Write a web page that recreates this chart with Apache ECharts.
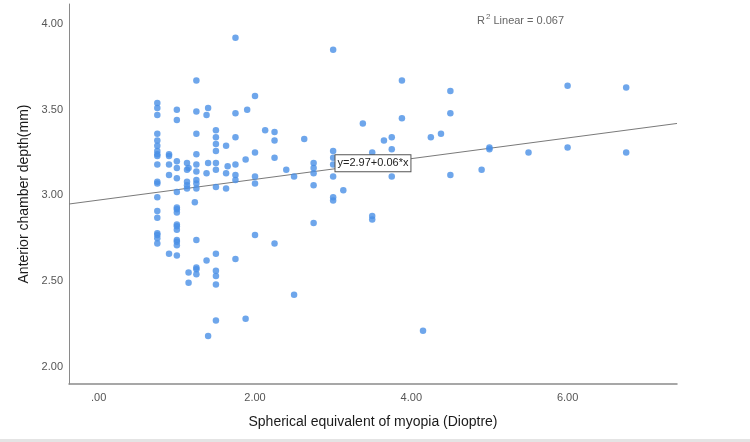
<!DOCTYPE html>
<html>
<head>
<meta charset="utf-8">
<script src="https://cdn.jsdelivr.net/npm/echarts@6/dist/echarts.min.js"></script>
<style>
  html, body { margin: 0; padding: 0; background: #fff; }
  #chart { width: 750px; height: 442px; }
</style>
</head>
<body>
<div id="chart"></div>
<script>
// spherical equivalent columns (dioptre) and the depths read at each one
const seColumns = [0.75, 0.90, 1.00, 1.13, 1.15, 1.23, 1.25, 1.38, 1.40, 1.50, 1.63, 1.65, 1.75, 1.88, 1.90,
  2.00, 2.13, 2.25, 2.40, 2.50, 2.63, 2.75, 3.00, 3.13, 3.38, 3.50, 3.65, 3.75, 3.88, 4.15, 4.25, 4.38,
  4.50, 4.90, 5.00, 5.50, 6.00, 6.75];
const acdByColumn = [
  [3.54, 3.51, 3.47, 3.36, 3.32, 3.29, 3.26, 3.24, 3.23, 3.18, 3.08, 3.07, 2.99, 2.91, 2.87, 2.78, 2.77, 2.75, 2.72],
  [3.24, 3.23, 3.18, 3.12, 2.66],
  [3.50, 3.44, 3.20, 3.16, 3.10, 3.02, 2.93, 2.92, 2.90, 2.83, 2.82, 2.80, 2.74, 2.73, 2.71, 2.65],
  [3.19, 3.15, 3.08, 3.06, 3.04],
  [3.16, 2.55, 2.49],
  [2.96],
  [3.67, 3.49, 3.36, 3.24, 3.18, 3.14, 3.09, 3.07, 3.04, 2.74, 2.58, 2.57, 2.54],
  [3.47, 3.13, 2.62],
  [3.51, 3.19, 2.18],
  [3.38, 3.34, 3.30, 3.26, 3.19, 3.15, 3.05, 2.66, 2.56, 2.53, 2.48, 2.27],
  [3.29, 3.13, 3.04],
  [3.17],
  [3.92, 3.48, 3.34, 3.18, 3.12, 3.09, 2.63],
  [3.21, 2.28],
  [3.50],
  [3.58, 3.25, 3.11, 3.07, 2.77],
  [3.38],
  [3.37, 3.32, 3.22, 2.72],
  [3.15],
  [3.11, 2.42],
  [3.33],
  [3.19, 3.16, 3.13, 3.06, 2.84],
  [3.85, 3.26, 3.22, 3.18, 3.11, 2.99, 2.97],
  [3.03],
  [3.42],
  [3.25, 2.88, 2.86],
  [3.32],
  [3.34, 3.27, 3.11],
  [3.67, 3.45],
  [2.21],
  [3.34],
  [3.36],
  [3.61, 3.48, 3.12],
  [3.15],
  [3.28, 3.27],
  [3.25],
  [3.64, 3.28],
  [3.63, 3.25]
];

// fit line end points and the label anchor
const fitX = [-0.38, 7.40];
const fitY = [2.95, 3.42];
const fitLabelAt = [3.03, 3.165];
const fitText = 'y=2.97+0.06*x';
const r2Text = '0.067';

const points = [];
seColumns.forEach((x, i) => acdByColumn[i].forEach(y => points.push([x, y])));

const font = "'Liberation Sans', Arial, sans-serif";
const chart = echarts.init(document.getElementById('chart'));

chart.setOption({
  backgroundColor: '#fff',
  animation: false,
  title: {
    text: '{t|R}{s|2}{t| Linear = ' + r2Text + '}',
    left: 472,
    top: 8,
    textStyle: {
      fontWeight: 'normal',
      rich: {
        t: { fontFamily: font, fontSize: 11, fontWeight: 'normal', color: '#666', verticalAlign: 'bottom', lineHeight: 13 },
        s: { fontFamily: font, fontSize: 8, fontWeight: 'normal', color: '#666', verticalAlign: 'top', lineHeight: 8, padding: [0, 0, 5, 1] }
      }
    }
  },
  graphic: [
    { type: 'rect', left: 0, bottom: 0, shape: { width: 750, height: 3 }, style: { fill: '#e4e4e4' } }
  ],
  grid: { left: 69, right: 73, top: 4, bottom: 58 },
  xAxis: {
    type: 'value',
    min: -0.38,
    max: 7.40,
    splitNumber: 4,
    name: 'Spherical equivalent of myopia (Dioptre)',
    nameLocation: 'middle',
    nameGap: 31,
    nameTextStyle: { fontFamily: font, fontSize: 14, color: '#1a1a1a' },
    axisLine: { onZero: false, lineStyle: { color: '#8a8a8a', width: 1.5 } },
    axisTick: { show: false },
    splitLine: { show: false },
    axisLabel: {
      fontFamily: font, fontSize: 11, color: '#555', margin: 8,
      showMinLabel: false, showMaxLabel: false,
      formatter: v => (v === 0 ? '.00' : v.toFixed(2))
    }
  },
  yAxis: {
    type: 'value',
    min: 1.90,
    max: 4.117,
    splitNumber: 4,
    name: 'Anterior chamber depth(mm)',
    nameLocation: 'middle',
    nameGap: 34,
    nameTextStyle: { fontFamily: font, fontSize: 14, color: '#1a1a1a' },
    axisLine: { onZero: false, lineStyle: { color: '#8a8a8a', width: 1 } },
    axisTick: { show: false },
    splitLine: { show: false },
    axisLabel: {
      fontFamily: font, fontSize: 11, color: '#555', margin: 6,
      showMinLabel: false, showMaxLabel: false,
      formatter: v => v.toFixed(2)
    }
  },
  series: [
    {
      type: 'line',
      data: fitX.map((x, i) => [x, fitY[i]]),
      symbol: 'none',
      silent: true,
      lineStyle: { color: '#7a7a7a', width: 1 },
      z: 1,
      markPoint: {
        symbol: 'circle',
        symbolSize: 0,
        data: [{ coord: fitLabelAt }],
        label: {
          show: true,
          position: 'right',
          distance: 0,
          offset: [0, -4],
          formatter: fitText,
          fontFamily: font,
          fontSize: 11,
          color: '#222',
          backgroundColor: '#fff',
          borderColor: '#555',
          borderWidth: 1,
          padding: [3, 2, 2, 2]
        }
      }
    },
    {
      type: 'scatter',
      data: points,
      symbolSize: 6.5,
      itemStyle: { color: '#4a90e6' },
      z: 2
    }
  ]
});
</script>
</body>
</html>
